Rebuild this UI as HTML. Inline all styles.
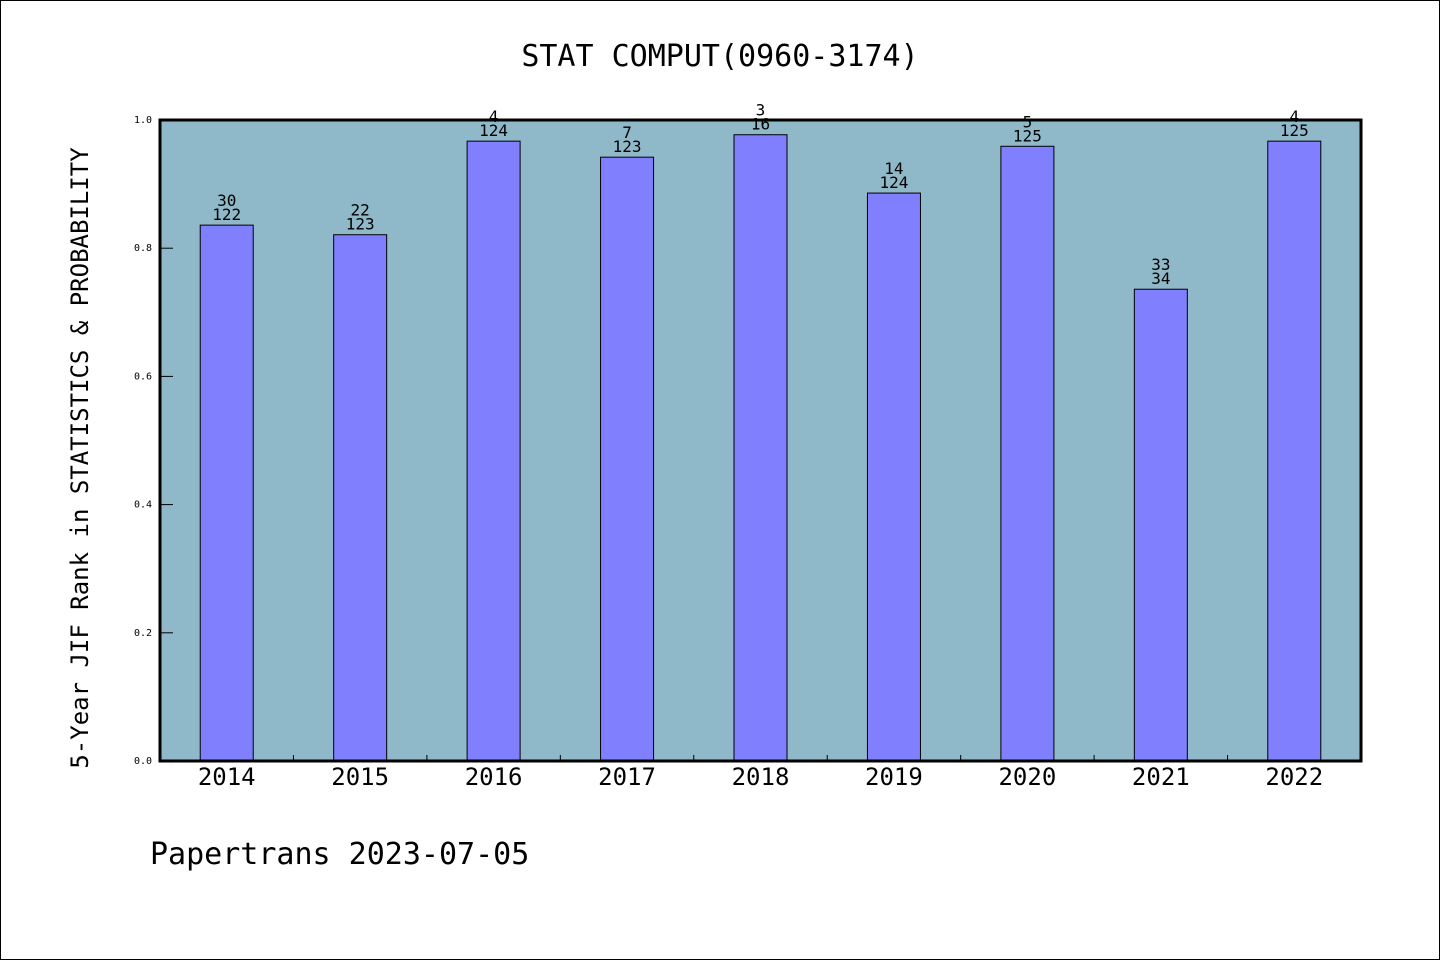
<!DOCTYPE html>
<html><head><meta charset="utf-8"><style>
body{margin:0;background:#fff}
svg{display:block}
text{font-family:"WenQuanYi Zen Hei","DejaVu Sans Mono",monospace;fill:#000}
</style></head><body>
<svg id="chart" width="1440" height="960" xmlns="http://www.w3.org/2000/svg">
<rect x="0.5" y="0.5" width="1439" height="959" fill="#fff" stroke="#000"/>
<text x="720" y="66" font-size="30" text-anchor="middle">STAT COMPUT(0960-3174)</text>
<rect x="160" y="120" width="1201" height="641" fill="#8fb8c8"/>
<g id="ticks"></g>
<g id="bars"></g>
<rect x="160" y="120" width="1201" height="641" fill="none" stroke="#000" stroke-width="3"/>
<text transform="translate(88,458) rotate(-90)" font-size="24" text-anchor="middle">5-Year JIF Rank in STATISTICS &amp; PROBABILITY</text>
<text x="150" y="864" font-size="30">Papertrans 2023-07-05</text>
</svg>
<script>
const categories=["2014","2015","2016","2017","2018","2019","2020","2021","2022"];
const values=[0.836,0.821,0.967,0.942,0.977,0.886,0.959,0.736,0.967];
const ranks=["30","22","4","7","3","14","5","33","4"];
const totals=["122","123","124","123","16","124","125","34","125"];
const yTicks=[0,0.2,0.4,0.6,0.8,1.0];
const yTickLabels=["0.0","0.2","0.4","0.6","0.8","1.0"];
const NS="http://www.w3.org/2000/svg";
const L=160,R=1361,T=120,B=761;
const band=(R-L)/categories.length;
const x=i=>L+band*i;
const y=v=>B-(B-T)*v;
function mk(tag,attrs,parent,txt){const e=document.createElementNS(NS,tag);for(const k in attrs)e.setAttribute(k,attrs[k]);if(txt!==undefined)e.textContent=txt;parent.appendChild(e);return e;}
const tg=document.getElementById('ticks'),bg=document.getElementById('bars');
yTicks.forEach((t,i)=>{
 const l=mk('line',{x1:L,x2:L+13,y1:y(t),y2:y(t),stroke:'#000','stroke-width':1},tg);
 
 
 const tx=mk('text',{x:152,y:y(t)+3,'font-size':10,'text-anchor':'end'},tg,yTickLabels[i]);
 
 
});
for(let i=1;i<categories.length;i++){
 const l=mk('line',{x1:x(i),x2:x(i),y1:B,y2:B-6,stroke:'#000','stroke-width':1},tg);
 
 
}
const bw=53;
categories.forEach((c,i)=>{
 const cx=x(i)+band/2;
 const r=mk('rect',{x:cx-bw/2,y:y(values[i]),width:bw,height:B-y(values[i]),fill:'#8080ff',stroke:'#000','stroke-width':1},bg);
 
 
 const t1=mk('text',{x:cx,y:y(values[i])-19,'font-size':16,'text-anchor':'middle'},bg,ranks[i]);
 
 
 const t2=mk('text',{x:cx,y:y(values[i])-5,'font-size':16,'text-anchor':'middle'},bg,totals[i]);
 
 
 const xl=mk('text',{x:cx,y:785,'font-size':24,'text-anchor':'middle'},bg,c);
 
 
});
</script>
</body></html>
